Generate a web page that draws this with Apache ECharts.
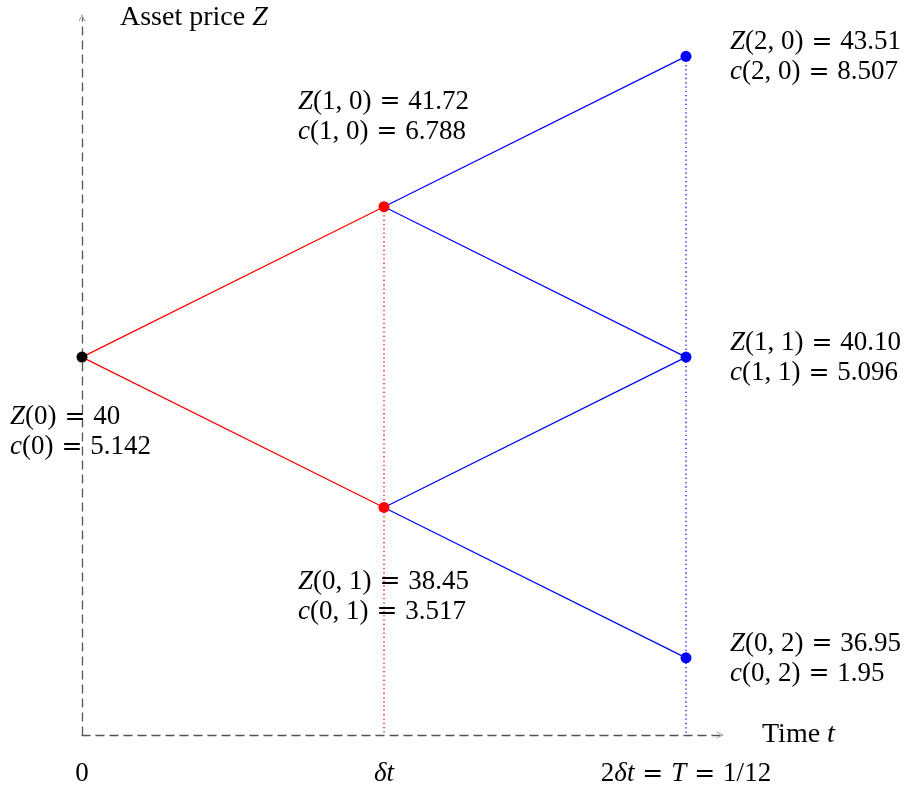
<!DOCTYPE html>
<html>
<head>
<meta charset="utf-8">
<script src="https://cdn.jsdelivr.net/npm/echarts@6/dist/echarts.min.js"></script>
<style>
  html, body { margin: 0; padding: 0; background: #ffffff; }
  #chart { width: 905px; height: 789px; }
</style>
</head>
<body>
<div id="chart"></div>
<script>
// Two-step binomial tree for a call option: node (i, j) has i up-moves and j down-moves.
const upMoves   = [0, 1, 0, 2, 1, 0];
const downMoves = [0, 0, 1, 0, 1, 2];
const assetPrice = ['40', '41.72', '38.45', '43.51', '40.10', '36.95'];
const optionValue = ['5.142', '6.788', '3.517', '8.507', '5.096', '1.95'];

// Time-axis tick labels at t = 0, δt, 2δt
const EQ = '{eq| = }';
const timeTickLabels = ['0', '{i|δt}', '2{i|δt}' + EQ + '{i|T}' + EQ + '1/12'];

const stepColors = ['#000000', '#ff0000', '#0000ff'];
const FONT = 'Liberation Serif';
const FS = 27;
const NAME_FS = 28;

const nodeCount = assetPrice.length;
const step = k => upMoves[k] + downMoves[k];
const level = k => upMoves[k] - downMoves[k];
const lastStep = Math.max(...upMoves.map((u, k) => step(k)));

const yMin = -2.513, yMax = 2.255;

function nodeLabelText(k) {
  const idx = step(k) === 0 ? '0' : upMoves[k] + ', ' + downMoves[k];
  return '{i|Z}(' + idx + ')' + EQ + assetPrice[k] + '\n{i|c}(' + idx + ')' + EQ + optionValue[k];
}

// label offset from node centre (top-left of text block)
function labelOffset(k) {
  const s = step(k);
  if (s === 0) return [-72, 45];
  if (s === lastStep) return [44, -29];
  return level(k) > 0 ? [-86, -120] : [-86, 59];
}

const richMath = {
  i: { fontStyle: 'italic', fontFamily: FONT, fontSize: FS, lineHeight: 30, color: '#000' },
  eq: { fontFamily: 'DejaVu Serif', fontSize: 25, lineHeight: 30, color: '#000' }
};
const richNameItalic = { i: { fontStyle: 'italic', fontFamily: FONT, fontSize: NAME_FS, color: '#000' } };

// edges: each non-final node links to its up and down successors
const edgeSeries = [];
for (let a = 0; a < nodeCount; a++) {
  for (let b = 0; b < nodeCount; b++) {
    if (step(b) === step(a) + 1 && Math.abs(level(b) - level(a)) === 1) {
      edgeSeries.push({
        type: 'line',
        data: [[step(a), level(a)], [step(b), level(b)]],
        showSymbol: false,
        symbol: 'none',
        silent: true,
        z: 3,
        lineStyle: { color: stepColors[step(b)], width: 1.2 },
        animation: false
      });
    }
  }
}

// dotted drop lines from the top node of each step to the time axis
const dropSeries = [];
for (let s = 1; s <= lastStep; s++) {
  let top = -Infinity;
  for (let k = 0; k < nodeCount; k++) if (step(k) === s) top = Math.max(top, level(k));
  dropSeries.push({
    type: 'line',
    data: [[s, top], [s, yMin]],
    symbol: 'none',
    silent: true,
    z: 2,
    lineStyle: { color: stepColors[s], width: 1.3, type: [1.3, 3], opacity: 1 },
    animation: false
  });
}

const nodeData = [];
for (let k = 0; k < nodeCount; k++) {
  nodeData.push({
    value: [step(k), level(k)],
    itemStyle: { color: stepColors[step(k)], opacity: 1 },
    label: {
      show: true,
      position: 'inside',
      align: 'left',
      verticalAlign: 'top',
      offset: labelOffset(k),
      formatter: nodeLabelText(k),
      fontFamily: FONT,
      fontSize: FS,
      lineHeight: 30,
      color: '#000',
      opacity: 1,
      rich: richMath
    }
  });
}

const arrowPath = 'path://M0,10 L5,0 L10,10 L9.2,10 L5,1.6 L0.8,10 Z';

const chart = echarts.init(document.getElementById('chart'), null, { renderer: 'canvas' });
chart.setOption({
  animation: false,
  backgroundColor: '#ffffff',
  grid: { left: 82, right: 185, top: 18, bottom: 48, containLabel: false },
  xAxis: {
    type: 'value',
    min: 0,
    max: 638 / 302,
    interval: 1,
    name: 'Time {i|t}',
    nameLocation: 'end',
    nameGap: 42,
    nameTextStyle: { fontFamily: FONT, fontSize: NAME_FS, color: '#000', align: 'left', verticalAlign: 'middle', rich: richNameItalic },
    axisLine: {
      show: true,
      onZero: false,
      symbol: ['none', arrowPath],
      symbolSize: [8, 7],
      lineStyle: { color: '#555', width: 1.3, type: [8, 6] }
    },
    axisTick: { show: false },
    splitLine: { show: false },
    axisLabel: {
      margin: 24,
      showMaxLabel: false,
      fontFamily: FONT,
      fontSize: FS,
      lineHeight: 30,
      color: '#000',
      rich: richMath,
      formatter: v => (Math.abs(v - Math.round(v)) < 1e-9 && timeTickLabels[Math.round(v)] !== undefined) ? timeTickLabels[Math.round(v)] : ''
    }
  },
  yAxis: {
    type: 'value',
    min: yMin,
    max: yMax,
    name: 'Asset price {i|Z}',
    nameLocation: 'end',
    nameGap: 0,
    nameTextStyle: { fontFamily: FONT, fontSize: NAME_FS, color: '#000', align: 'left', verticalAlign: 'middle', padding: [0, 0, 0, 38], rich: richNameItalic },
    axisLine: {
      show: true,
      onZero: false,
      symbol: ['none', arrowPath],
      symbolSize: [8, 7],
      lineStyle: { color: '#555', width: 1.3, type: [8, 6] }
    },
    axisTick: { show: false },
    splitLine: { show: false },
    axisLabel: { show: false }
  },
  series: [
    ...dropSeries,
    ...edgeSeries,
    {
      type: 'scatter',
      symbol: 'circle',
      symbolSize: 11,
      z: 5,
      silent: true,
      itemStyle: { opacity: 1 },
      data: nodeData,
      animation: false
    }
  ]
});
</script>
</body>
</html>
